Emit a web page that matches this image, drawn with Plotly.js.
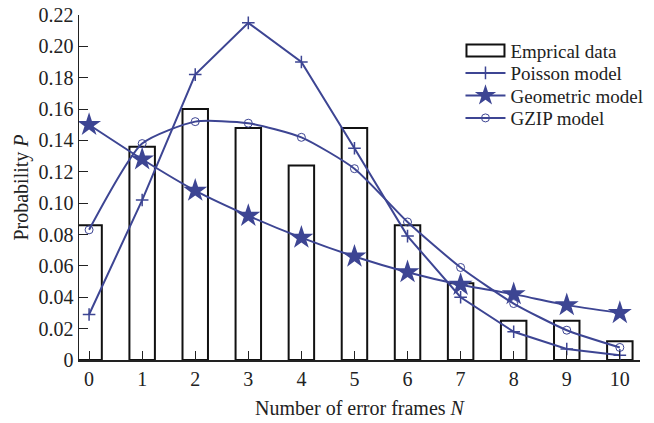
<!DOCTYPE html>
<html>
<head>
<meta charset="utf-8">
<script src="https://cdn.plot.ly/plotly-3.0.1.min.js"></script>
<style>html,body{margin:0;padding:0;background:#fff;}#chart{width:654px;height:423px;}</style>
</head>
<body>
<div id="chart"></div>
<script>
const frames = [0,1,2,3,4,5,6,7,8,9,10];
const empirical = [0.086,0.136,0.160,0.148,0.124,0.148,0.086,0.049,0.025,0.025,0.012];
const poisson = [0.029,0.102,0.182,0.215,0.190,0.135,0.079,0.040,0.018,0.007,0.003];
const geometric = [0.150,0.128,0.108,0.092,0.078,0.066,0.056,0.048,0.042,0.035,0.030];
const gzip = [0.083,0.138,0.152,0.151,0.142,0.122,0.088,0.059,0.036,0.019,0.008];
const yTickVals = [0,0.02,0.04,0.06,0.08,0.10,0.12,0.14,0.16,0.18,0.20,0.22];
const yTickText = ["0","0.02","0.04","0.06","0.08","0.10","0.12","0.14","0.16","0.18","0.20","0.22"];

const blue = '#3d4593';
const fam = 'Liberation Serif, Times New Roman, serif';
const font = {family:fam, size:20, color:'#222'};
const legFont = {family:fam, size:19, color:'#222'};

const traces = [
  {type:'bar', x:frames, y:empirical, name:'Emprical data', width:0.48,
   marker:{color:'rgba(255,255,255,0)', line:{color:'#111', width:2}}},
  {type:'scatter', mode:'lines+markers', x:frames, y:poisson, name:'Poisson model',
   line:{color:blue, width:2},
   marker:{symbol:'cross-thin', size:9, color:blue, line:{color:blue, width:1.5}}},
  {type:'scatter', mode:'lines+markers', x:frames, y:geometric, name:'Geometric model',
   line:{color:blue, width:2, shape:'spline', smoothing:0.5},
   marker:{symbol:'star', size:18, color:blue}},
  {type:'scatter', mode:'lines+markers', x:frames, y:gzip, name:'GZIP model',
   line:{color:blue, width:2, shape:'spline', smoothing:0.6},
   marker:{symbol:'circle-open', size:8, color:blue, line:{color:blue, width:1}}}
];

const layout = {
  width:654, height:423,
  margin:{l:79, r:14, t:15, b:63, autoexpand:false},
  paper_bgcolor:'#fff', plot_bgcolor:'#fff',
  font:font,
  showlegend:true,
  legend:{x:0.68, y:0.952, xanchor:'left', yanchor:'top', bgcolor:'rgba(255,255,255,0)',
          font:legFont, tracegroupgap:0, itemwidth:40},
  xaxis:{range:[-0.19,10.38], tickvals:frames, ticktext:frames.map(String),
         ticks:'inside', ticklen:9, tickcolor:'#222', tickwidth:1,
         showline:true, linecolor:'#222', linewidth:1.5, showgrid:false, zeroline:false,
         tickfont:font, automargin:false,
         title:{text:'Number of error frames <i>N</i>', font:font, standoff:12}},
  yaxis:{range:[0,0.22], tickvals:yTickVals, ticktext:yTickText,
         ticks:'inside', ticklen:9, tickcolor:'#222', tickwidth:1,
         showline:true, linecolor:'#222', linewidth:1.5, showgrid:false, zeroline:false,
         tickfont:font, automargin:false,
         title:{text:'Probability <i>P</i>', font:font, standoff:4}}
};

Plotly.newPlot('chart', traces, layout, {displayModeBar:false, staticPlot:true}).then(function(gd){
  // tighten legend rows and widen the bar legend symbol
  const items = gd.querySelectorAll('.legend .traces');
  let y0 = null;
  items.forEach(function(el, i){
    const m = /translate\(([-\d.]+),\s*([-\d.]+)\)/.exec(el.getAttribute('transform') || '');
    if (!m) return;
    const x = parseFloat(m[1]);
    const y = parseFloat(m[2]);
    if (y0 === null) y0 = y;
    el.setAttribute('transform', 'translate(' + x + ',' + (y0 + i * 22.5) + ')');
  });
  const barSym = gd.querySelector('.legend .traces .legendpoints path');
  if (barSym) barSym.setAttribute('d', 'M19,6H-19V-6H19Z');
});
</script>
</body>
</html>
